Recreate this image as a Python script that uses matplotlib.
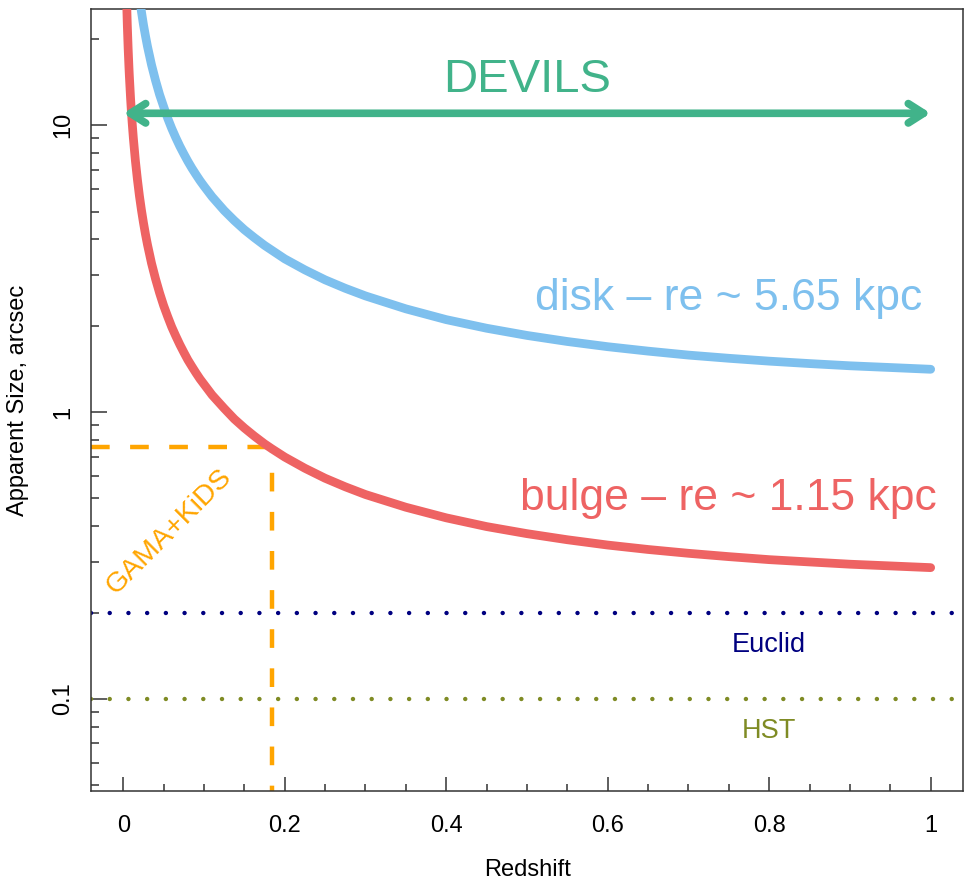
import matplotlib
matplotlib.use("Agg")
import matplotlib.pyplot as plt
from matplotlib.ticker import FixedLocator

plt.rcParams["font.family"] = ["Liberation Sans", "DejaVu Sans"]

# apparent size (arcsec) vs redshift
bulge_z = [0.004, 0.005, 0.006, 0.007, 0.0075, 0.009, 0.01, 0.011, 0.0125, 0.015,
           0.0175, 0.02, 0.0225, 0.025, 0.0275, 0.03, 0.035, 0.04, 0.045, 0.05,
           0.055, 0.06, 0.065, 0.07, 0.075, 0.08, 0.085, 0.09, 0.095, 0.1, 0.11,
           0.125, 0.1375, 0.15, 0.1625, 0.175, 0.184, 0.2, 0.225, 0.25, 0.275, 0.3,
           0.35, 0.4, 0.45, 0.5, 0.55, 0.6, 0.65, 0.7, 0.75, 0.8, 0.85, 0.9, 0.95, 1.0]
bulge_size = [27.8, 22.3, 18.6, 15.96, 14.9, 12.44, 11.2, 10.2, 9.0, 7.52,
              6.47, 5.67, 5.06, 4.57, 4.165, 3.83, 3.30, 2.91, 2.60, 2.35,
              2.152, 1.98, 1.842, 1.72, 1.615, 1.52, 1.442, 1.37, 1.305, 1.25, 1.147,
              1.03, 0.946, 0.88, 0.824, 0.775, 0.745, 0.697, 0.637, 0.588, 0.549, 0.516,
              0.466, 0.428, 0.399, 0.377, 0.359, 0.344, 0.332, 0.322, 0.3135, 0.306,
              0.3004, 0.295, 0.291, 0.287]
disk_z = [0.0175, 0.02, 0.0225, 0.025, 0.0275, 0.03, 0.035, 0.04, 0.045, 0.05,
          0.055, 0.06, 0.065, 0.07, 0.075, 0.08, 0.085, 0.09, 0.095, 0.1, 0.11,
          0.125, 0.1375, 0.15, 0.1625, 0.175, 0.2, 0.225, 0.25, 0.275, 0.3, 0.35,
          0.4, 0.45, 0.5, 0.55, 0.6, 0.65, 0.7, 0.75, 0.8, 0.85, 0.9, 0.95, 1.0]
disk_size = [31.8, 27.9, 24.86, 22.4, 20.46, 18.8, 16.22, 14.3, 12.77, 11.6,
             10.57, 9.74, 9.05, 8.45, 7.94, 7.48, 7.08, 6.73, 6.41, 6.13, 5.63,
             5.04, 4.65, 4.32, 4.05, 3.81, 3.42, 3.13, 2.89, 2.70, 2.54, 2.29,
             2.10, 1.96, 1.85, 1.762, 1.69, 1.631, 1.58, 1.540, 1.505, 1.476, 1.45,
             1.430, 1.41]

# survey resolution limits (arcsec)
euclid_res = 0.2
hst_res = 0.1

# GAMA+KiDS limit corner
gama_z = 0.184
gama_size = 0.755

# DEVILS redshift range and arrow height
devils_z = [0.0, 1.0]
devils_y = 11.0

x_ticks = [0, 0.2, 0.4, 0.6, 0.8, 1]
x_tick_labels = ["0", "0.2", "0.4", "0.6", "0.8", "1"]
x_minor = [0.05, 0.1, 0.15, 0.25, 0.3, 0.35, 0.45, 0.5, 0.55, 0.65, 0.7, 0.75,
           0.85, 0.9, 0.95]
y_ticks = [0.1, 1, 10]
y_tick_labels = ["0.1", "1", "10"]
y_minor = [0.05, 0.06, 0.07, 0.08, 0.09, 0.2, 0.3, 0.4, 0.5, 0.6, 0.7, 0.8, 0.9,
           2, 3, 4, 5, 6, 7, 8, 9, 20]

RED = "#EE6363"
BLUE = "#7EC0EE"
GREEN = "#41B38A"
ORANGE = "#FFA500"
NAVY = "#000080"
OLIVE = "#7F8B24"
AXIS = "#333333"

fig = plt.figure(figsize=(9.72, 8.83), dpi=100)
ax = fig.add_axes([0.0936, 0.1042, 0.8971, 0.8856])
ax.set_yscale("log")
ax.set_xlim(-0.04, 1.04)
ax.set_ylim(0.0478, 25.4)

ax.plot(disk_z, disk_size, color=BLUE, lw=6.3, solid_capstyle="round",
        solid_joinstyle="round", zorder=3)
ax.plot(bulge_z, bulge_size, color=RED, lw=6.3, solid_capstyle="round",
        solid_joinstyle="round", zorder=3)

ax.axhline(euclid_res, color=NAVY, lw=3.2, linestyle=(0, (0.01, 4.2)),
           dash_capstyle="round", zorder=2)
ax.axhline(hst_res, color=OLIVE, lw=3.2, linestyle=(0, (0.01, 4.2)),
           dash_capstyle="round", zorder=2)

xlo, xhi = ax.get_xlim()
ylo, yhi = ax.get_ylim()
ax.hlines(gama_size, xlo, gama_z, color=ORANGE, lw=3.2, linestyles=(0, (4.2, 4.6)), zorder=2)
ax.vlines(gama_z, ylo, gama_size, color=ORANGE, lw=3.2, linestyles=(3, (4.2, 4.6)), zorder=2)

ax.annotate("", xy=(devils_z[1], devils_y), xytext=(devils_z[0], devils_y),
            arrowprops=dict(arrowstyle="<->,head_length=0.55,head_width=0.35",
                            color=GREEN, lw=5.5, shrinkA=0, shrinkB=0,
                            capstyle="round", joinstyle="round", mutation_scale=20),
            zorder=4)

ax.text(0.5, 13.0, "DEVILS", color=GREEN, fontsize=34, ha="center", va="baseline")
ax.text(0.75, 2.267, "disk \u2013 re ~ 5.65 kpc", color=BLUE, fontsize=32,
        ha="center", va="baseline")
ax.text(0.75, 0.4556, "bulge \u2013 re ~ 1.15 kpc", color=RED, fontsize=32,
        ha="center", va="baseline")
ax.text(0.80, 0.146, "Euclid", color=NAVY, fontsize=19.5, ha="center", va="baseline")
ax.text(0.80, 0.0731, "HST", color=OLIVE, fontsize=19.5, ha="center", va="baseline")
ax.text(0.057, 0.382, "GAMA+KiDS", color=ORANGE, fontsize=20.5, rotation=45,
        rotation_mode="anchor", ha="center", va="center")

ax.xaxis.set_major_locator(FixedLocator(x_ticks))
ax.xaxis.set_minor_locator(FixedLocator(x_minor))
ax.set_xticks(x_ticks, labels=x_tick_labels)
ax.yaxis.set_major_locator(FixedLocator(y_ticks))
ax.yaxis.set_minor_locator(FixedLocator(y_minor))
ax.set_yticks(y_ticks, labels=y_tick_labels, rotation=90, va="center")
ax.set_yticks(y_minor, minor=True, labels=[""] * len(y_minor))

ax.tick_params(axis="both", which="both", direction="in", color=AXIS, width=1.1)
ax.tick_params(axis="x", which="major", length=10, pad=17, labelsize=17)
ax.tick_params(axis="x", which="minor", length=5)
ax.tick_params(axis="y", which="major", length=11.5, pad=12, labelsize=17)
ax.tick_params(axis="y", which="minor", length=5.8)

for s in ax.spines.values():
    s.set_color(AXIS)
    s.set_linewidth(1.1)

ax.set_xlabel("Redshift", fontsize=17)
ax.xaxis.set_label_coords(0.5006, -0.087)
ax.set_ylabel("Apparent Size, arcsec", fontsize=17)
ax.yaxis.set_label_coords(-0.0711, 0.5)

fig.savefig("out.png", dpi=100)
